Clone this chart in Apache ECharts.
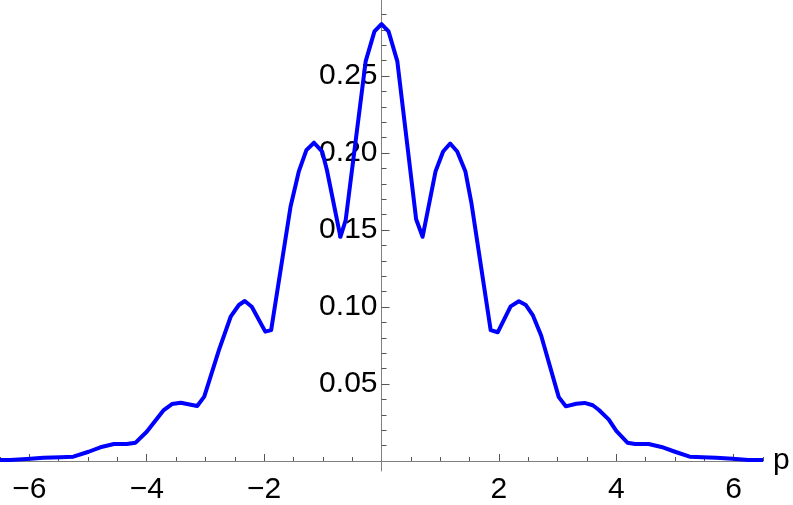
<!DOCTYPE html>
<html>
<head>
<meta charset="utf-8">
<script src="https://cdn.jsdelivr.net/npm/echarts@6/dist/echarts.min.js"></script>
<style>
html,body{margin:0;padding:0;background:#fff;}
#chart{width:793px;height:505px;}
</style>
</head>
<body>
<div id="chart"></div>
<script>
// Curve vertices (p, value)
const pValues = [
  -6.50, -6.33, -6.04, -5.76, -5.47, -5.25, -4.99, -4.79, -4.56, -4.34, -4.19, -4.00,
  -3.80, -3.71, -3.57, -3.42, -3.14, -3.02, -2.77, -2.57, -2.43, -2.33, -2.21, -1.98,
  -1.88, -1.55, -1.41, -1.28, -1.15, -1.01, -0.93, -0.70, -0.61, -0.27, -0.12,
  0.00,
  0.12, 0.27, 0.59, 0.70, 0.92, 1.05, 1.17, 1.29, 1.43, 1.53, 1.86, 1.98,
  2.20, 2.34, 2.46, 2.58, 2.72, 3.02, 3.14, 3.32, 3.46, 3.60, 3.70, 3.87,
  4.00, 4.19, 4.32, 4.55, 4.77, 5.00, 5.25, 5.47, 5.70, 5.98, 6.25, 6.50
];
const curveValues = [
  0.0006, 0.0006, 0.0013, 0.0021, 0.0024, 0.0028, 0.0060, 0.0089, 0.0110, 0.0110, 0.0119, 0.0190,
  0.0288, 0.0331, 0.0370, 0.0378, 0.0357, 0.0418, 0.0720, 0.0937, 0.1013, 0.1039, 0.1002, 0.0840,
  0.0850, 0.1651, 0.1879, 0.2019, 0.2067, 0.2009, 0.1890, 0.1456, 0.1565, 0.2595, 0.2790,
  0.2838,
  0.2790, 0.2595, 0.1570, 0.1456, 0.1880, 0.2010, 0.2062, 0.2010, 0.1880, 0.1680, 0.0850, 0.0836,
  0.1004, 0.1037, 0.1013, 0.0945, 0.0815, 0.0415, 0.0355, 0.0372, 0.0377, 0.0362, 0.0333, 0.0270,
  0.0195, 0.0119, 0.0110, 0.0110, 0.0091, 0.0060, 0.0028, 0.0024, 0.0021, 0.0014, 0.0007, 0.0006
];
// Tick definitions
const xMajorTicks = [-6, -4, -2, 2, 4, 6];
const xMinorTicks = [-6.5, -5.5, -5, -4.5, -3.5, -3, -2.5, -1.5, -1, -0.5, 0.5, 1, 1.5, 2.5, 3, 3.5, 4.5, 5, 5.5, 6.5];
const yMajorTicks = [0.05, 0.10, 0.15, 0.20, 0.25];
const yMinorTicks = [0.01, 0.02, 0.03, 0.04, 0.06, 0.07, 0.08, 0.09, 0.11, 0.12, 0.13, 0.14,
  0.16, 0.17, 0.18, 0.19, 0.21, 0.22, 0.23, 0.24, 0.26, 0.27, 0.28, 0.29];
const xAxisName = 'p';

const seriesData = pValues.map((p, i) => [p, curveValues[i]]);

const FONT = 'Liberation Sans, Arial, sans-serif';
const FS = 30;
const axisColor = '#808080';
const X_MIN = -6.5, X_MAX = 6.5, Y_MIN = -0.0065, Y_MAX = 0.2994;
const GRID_LEFT = 0, GRID_RIGHT = 30;
const plotWidth = 793 - GRID_LEFT - GRID_RIGHT;
// y axis sits at p = 0: shift it from the grid's left edge
const yAxisOffset = -plotWidth * (0 - X_MIN) / (X_MAX - X_MIN);

const chart = echarts.init(document.getElementById('chart'), null, {renderer: 'canvas'});
chart.setOption({
  animation: false,
  backgroundColor: '#ffffff',
  grid: {left: GRID_LEFT, right: GRID_RIGHT, top: 0, bottom: 34, containLabel: false, outerBoundsMode: 'none'},
  xAxis: [
    {
      type: 'value', min: X_MIN, max: X_MAX, position: 'bottom',
      axisLine: {show: true, onZero: true, lineStyle: {color: axisColor, width: 1}},
      axisTick: {show: true, inside: true, length: 7, customValues: xMajorTicks, lineStyle: {color: '#555', width: 1}},
      axisLabel: {show: true, customValues: xMajorTicks, margin: 4, color: '#000', fontFamily: FONT, fontSize: FS,
        formatter: v => (v < 0 ? '\u2212' + Math.abs(v) : String(v))},
      splitLine: {show: false},
      name: xAxisName, nameLocation: 'end', nameGap: 10,
      nameTextStyle: {color: '#000', fontFamily: FONT, fontSize: FS, verticalAlign: 'middle', align: 'left'}
    },
    {
      type: 'value', min: X_MIN, max: X_MAX, position: 'bottom',
      axisLine: {show: false, onZero: true},
      axisTick: {show: true, inside: true, length: 4, customValues: xMinorTicks, lineStyle: {color: '#555', width: 1}},
      axisLabel: {show: false},
      splitLine: {show: false}
    }
  ],
  yAxis: [
    {
      type: 'value', min: Y_MIN, max: Y_MAX, position: 'left', offset: yAxisOffset,
      axisLine: {show: true, onZero: false, lineStyle: {color: axisColor, width: 1}},
      axisTick: {show: true, inside: true, length: 8, customValues: yMajorTicks, lineStyle: {color: '#555', width: 1}},
      axisLabel: {show: true, customValues: yMajorTicks, margin: 4, color: '#000', fontFamily: FONT, fontSize: FS,
        formatter: v => v.toFixed(2)},
      splitLine: {show: false}
    },
    {
      type: 'value', min: Y_MIN, max: Y_MAX, position: 'left', offset: yAxisOffset,
      axisLine: {show: false, onZero: false},
      axisTick: {show: true, inside: true, length: 5, customValues: yMinorTicks, lineStyle: {color: '#555', width: 1}},
      axisLabel: {show: false},
      splitLine: {show: false}
    }
  ],
  series: [{
    type: 'line',
    xAxisIndex: 0, yAxisIndex: 0,
    data: seriesData,
    showSymbol: false,
    symbol: 'none',
    smooth: false,
    lineStyle: {color: '#0000ff', width: 4, join: 'round'},
    clip: false
  }]
});
</script>
</body>
</html>
